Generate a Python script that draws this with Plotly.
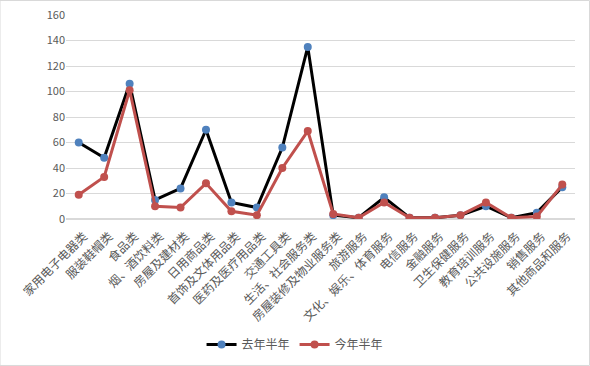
import plotly.graph_objects as go

categories = ["家用电子电器类", "服装鞋帽类", "食品类", "烟、酒饮料类", "房屋及建材类",
              "日用商品类", "首饰及文体用品类", "医药及医疗用品类", "交通工具类",
              "生活、社会服务类", "房屋装修及物业服务类", "旅游服务", "文化、娱乐、体育服务",
              "电信服务", "金融服务", "卫生保健服务", "教育培训服务", "公共设施服务",
              "销售服务", "其他商品和服务"]
last_year = [60, 48, 106, 15, 24, 70, 13, 9, 56, 135, 3, 1, 17, 1, 1, 3, 10, 1, 5, 25]
this_year = [19, 33, 101, 10, 9, 28, 6, 3, 40, 69, 4, 1, 13, 1, 1, 3, 13, 1, 2, 27]
y_ticks = [0, 20, 40, 60, 80, 100, 120, 140, 160]

FONT = "Noto Sans CJK SC, Microsoft YaHei, sans-serif"

fig = go.Figure()
fig.add_trace(go.Scatter(x=categories, y=last_year, name="去年半年", mode="lines+markers",
                         line=dict(color="#000000", width=3),
                         marker=dict(color="#4F81BD", size=8)))
fig.add_trace(go.Scatter(x=categories, y=this_year, name="今年半年", mode="lines+markers",
                         line=dict(color="#C0504D", width=3),
                         marker=dict(color="#C0504D", size=8)))

fig.update_layout(
    width=590, height=366,
    margin=dict(l=66, r=15, t=15, b=147, autoexpand=False),
    paper_bgcolor="white", plot_bgcolor="white",
    font=dict(family=FONT, color="#595959", size=11),
    showlegend=True,
    legend=dict(orientation="h", x=0.45, xanchor="center", y=-0.615, yanchor="middle",
                font=dict(size=12, color="#595959"), itemwidth=30),
    xaxis=dict(type="category", range=[-0.5, len(categories) - 0.5], automargin=False,
               tickangle=-45, showgrid=False, showline=False,
               ticklabelstandoff=7, ticklabelshift=5,
               ticks="", tickfont=dict(size=12, color="#595959")),
    yaxis=dict(range=[0, 160], tickvals=y_ticks, automargin=False, showgrid=True,
               gridcolor="#D9D9D9", gridwidth=1, zeroline=True, zerolinecolor="#D9D9D9",
               showline=False, ticks="", tickfont=dict(size=11, color="#595959")),
    shapes=[dict(type="rect", xref="paper", yref="paper",
                 x0=-0.1297, x1=1.0285, y0=-0.718, y1=1.071,
                 line=dict(color="#D9D9D9", width=1))],
)

fig.write_html("out.html", config={"displayModeBar": False},
               post_script="document.body.style.margin='0';")
